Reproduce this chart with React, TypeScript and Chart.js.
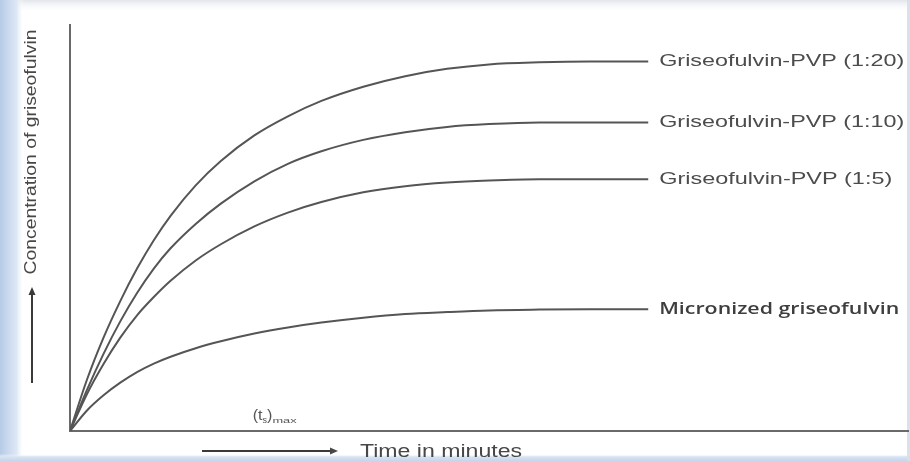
import React, { useEffect, useRef } from "react";
import { Chart, registerables } from "chart.js";

Chart.register(...registerables);

// ---- data (arbitrary units) ----
const times = [0, 2, 4, 6, 8, 10, 12, 15, 18, 22, 26, 30, 35, 40, 45, 50, 56, 62, 69];
const pvp1to20 = [0, 12.5, 23, 32, 40, 47, 53, 60.5, 66.5, 72.8, 77.5, 81.3, 84.8, 87.4, 89.2, 90.3, 90.8, 91, 91];
const pvp1to10 = [0, 10, 19, 27, 34, 40, 45, 51, 56, 61.5, 65.8, 68.9, 71.7, 73.6, 74.9, 75.6, 76, 76, 76];
const pvp1to5 = [0, 9, 16.5, 23, 28.5, 33, 37, 42, 46, 50.4, 53.8, 56.4, 58.8, 60.3, 61.2, 61.7, 62, 62, 62];
const micronized = [0, 5, 8.8, 11.9, 14.5, 16.6, 18.3, 20.4, 22.1, 24, 25.5, 26.7, 27.9, 28.8, 29.3, 29.7, 29.9, 30, 30];

const seriesLabels = [
  "Griseofulvin-PVP (1:20)",
  "Griseofulvin-PVP (1:10)",
  "Griseofulvin-PVP (1:5)",
  "Micronized griseofulvin",
];
const seriesValues = [pvp1to20, pvp1to10, pvp1to5, micronized];

const yTitle = "Concentration of griseofulvin";
const xTitle = "Time in minutes";
const tmaxPosition = [21.8, 2.6]; // data position of the (ts)max note

const xRange = [0, 100];
const yRange = [0, 100];

function drawStretched(ctx: CanvasRenderingContext2D, text: string, x: number, y: number, sx: number) {
  ctx.save();
  ctx.translate(x, y);
  ctx.scale(sx, 1);
  ctx.fillText(text, 0, 0);
  ctx.restore();
}

const backgroundPlugin = {
  id: "bgDeco",
  beforeDraw(chart: any) {
    const ctx: CanvasRenderingContext2D = chart.ctx;
    const W = chart.width;
    const H = chart.height;
    ctx.save();
    ctx.fillStyle = "#ffffff";
    ctx.fillRect(0, 0, W, H);
    const gTop = ctx.createLinearGradient(0, 0, 0, 12);
    gTop.addColorStop(0, "rgba(225,228,234,1)");
    gTop.addColorStop(1, "rgba(255,255,255,0)");
    ctx.fillStyle = gTop;
    ctx.fillRect(0, 0, W, 12);
    const gLeft = ctx.createLinearGradient(0, 0, 24, 0);
    gLeft.addColorStop(0, "rgb(182,203,230)");
    gLeft.addColorStop(0.7, "rgb(222,232,245)");
    gLeft.addColorStop(1, "rgba(255,255,255,0)");
    ctx.fillStyle = gLeft;
    ctx.fillRect(0, 0, 24, H);
    const gBot = ctx.createLinearGradient(0, H - 7, 0, H);
    gBot.addColorStop(0, "rgba(255,255,255,0)");
    gBot.addColorStop(0.4, "rgb(215,227,242)");
    gBot.addColorStop(1, "rgb(196,213,236)");
    ctx.fillStyle = gBot;
    ctx.fillRect(0, H - 7, W, 7);
    ctx.fillStyle = "rgba(215,222,232,0.9)";
    ctx.fillRect(W - 3, 0, 3, H);
    ctx.restore();
  },
  afterDraw(chart: any) {
    const ctx: CanvasRenderingContext2D = chart.ctx;
    const xs = chart.scales.x;
    const ys = chart.scales.y;
    ctx.save();

    // series labels at the end of each curve
    ctx.textBaseline = "middle";
    ctx.textAlign = "left";
    seriesLabels.forEach((label, i) => {
      const vals = seriesValues[i];
      const px = xs.getPixelForValue(times[times.length - 1]);
      const py = ys.getPixelForValue(vals[vals.length - 1]);
      if (i === 3) {
        ctx.font = "600 16px 'Open Sans'";
        ctx.fillStyle = "#3e3e3e";
      } else {
        ctx.font = "17px 'Liberation Sans'";
        ctx.fillStyle = "#4c4c4c";
      }
      const w = ctx.measureText(label).width;
      const target = i === 3 ? 240 : (i === 2 ? 233 : 245);
      drawStretched(ctx, label, px + 11, py, target / w);
    });

    // y title, rotated
    ctx.font = "17px 'Liberation Sans'";
    ctx.fillStyle = "#474747";
    const yw = ctx.measureText(yTitle).width;
    ctx.save();
    ctx.translate(31, 152);
    ctx.rotate(-Math.PI / 2);
    ctx.scale(245 / yw, 1);
    ctx.textAlign = "center";
    ctx.textBaseline = "middle";
    ctx.fillText(yTitle, 0, 0);
    ctx.restore();

    // y arrow
    ctx.strokeStyle = "#3a3a3a";
    ctx.fillStyle = "#3a3a3a";
    ctx.lineWidth = 2;
    ctx.beginPath();
    ctx.moveTo(32, 383);
    ctx.lineTo(32, 294);
    ctx.stroke();
    ctx.beginPath();
    ctx.moveTo(32, 287);
    ctx.lineTo(28.5, 295);
    ctx.lineTo(35.5, 295);
    ctx.closePath();
    ctx.fill();

    // x title
    ctx.font = "18px 'Liberation Sans'";
    ctx.fillStyle = "#474747";
    ctx.textAlign = "left";
    ctx.textBaseline = "middle";
    const xw = ctx.measureText(xTitle).width;
    drawStretched(ctx, xTitle, 360, 452, 162 / xw);

    // x arrow
    ctx.beginPath();
    ctx.moveTo(202, 451);
    ctx.lineTo(330, 451);
    ctx.stroke();
    ctx.beginPath();
    ctx.moveTo(338, 451);
    ctx.lineTo(330, 447.5);
    ctx.lineTo(330, 454.5);
    ctx.closePath();
    ctx.fill();

    // (ts)max note
    const nx = xs.getPixelForValue(tmaxPosition[0]);
    const ny = ys.getPixelForValue(tmaxPosition[1]);
    ctx.fillStyle = "#555555";
    ctx.textBaseline = "alphabetic";
    let cx = nx;
    ctx.font = "14px 'Liberation Sans'";
    drawStretched(ctx, "(t", cx, ny, 1.15);
    cx += ctx.measureText("(t").width * 1.15;
    ctx.font = "9px 'Liberation Sans'";
    ctx.fillText("s", cx, ny + 3);
    cx += ctx.measureText("s").width;
    ctx.font = "14px 'Liberation Sans'";
    drawStretched(ctx, ")", cx, ny, 1.15);
    cx += ctx.measureText(")").width * 1.15;
    ctx.font = "8px 'Liberation Sans'";
    drawStretched(ctx, "max", cx, ny + 3, 1.6);

    ctx.restore();
  },
};

export default function App() {
  const canvasRef = useRef<HTMLCanvasElement | null>(null);

  useEffect(() => {
    const canvas = canvasRef.current;
    if (!canvas) return;
    const chart = new Chart(canvas, {
      type: "line",
      data: {
        datasets: seriesValues.map((vals, i) => ({
          label: seriesLabels[i],
          data: times.map((t, j) => ({ x: t, y: vals[j] })),
          borderColor: "#555555",
          borderWidth: 2,
          pointRadius: 0,
          fill: false,
          cubicInterpolationMode: "monotone" as const,
        })),
      },
      options: {
        responsive: false,
        maintainAspectRatio: false,
        animation: false,
        events: [],
        layout: { padding: { left: 70, right: 2, top: 25, bottom: 30 } },
        plugins: {
          legend: { display: false },
          tooltip: { enabled: false },
          title: { display: false },
        },
        scales: {
          x: {
            type: "linear",
            min: xRange[0],
            max: xRange[1],
            ticks: { display: false },
            grid: { display: false, drawTicks: false },
            border: { display: true, color: "#6a6a6a", width: 2 },
          },
          y: {
            type: "linear",
            min: yRange[0],
            max: yRange[1],
            ticks: { display: false },
            grid: { display: false, drawTicks: false },
            border: { display: true, color: "#6a6a6a", width: 2 },
          },
        },
      },
      plugins: [backgroundPlugin],
    });
    return () => chart.destroy();
  }, []);

  return (
    <div style={{ position: "absolute", left: 0, top: 0, width: 910, height: 461 }}>
      <canvas ref={canvasRef} width={910} height={461} style={{ width: 910, height: 461, display: "block" }} />
    </div>
  );
}
